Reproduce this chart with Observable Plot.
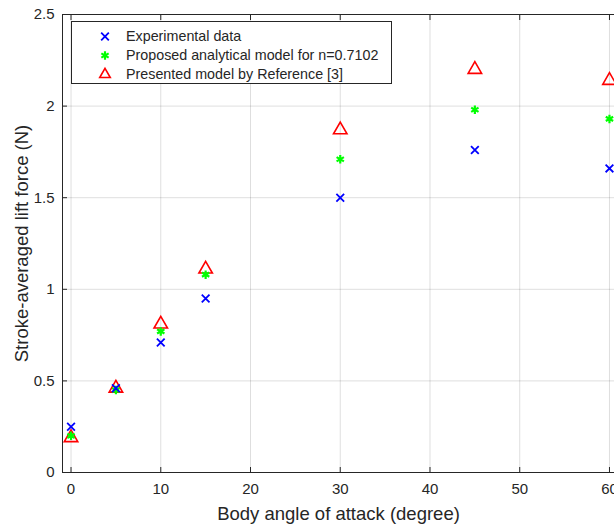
<!DOCTYPE html>
<html>
<head>
<meta charset="utf-8">
<script src="https://cdn.jsdelivr.net/npm/d3@7"></script>
<script src="https://cdn.jsdelivr.net/npm/@observablehq/plot@0.6"></script>
<style>
  html, body { margin: 0; padding: 0; background: #fff; }
  #wrap { position: relative; width: 614px; height: 524px; overflow: hidden; font-family: "Liberation Sans", Arial, sans-serif; }
  #legend { position: absolute; left: 71px; top: 21px; width: 321px; height: 63px; border: 1px solid #262626; background: #fff; box-sizing: border-box; }
  .item { position: absolute; left: 0; height: 19px; width: 100%; }
  .item svg { position: absolute; left: 23px; top: 0; }
  .item span { position: absolute; left: 54px; top: 1px; font-size: 14.3px; color: #262626; white-space: nowrap; }
</style>
</head>
<body>
<div id="wrap"></div>
<script>
const angles = [0, 5, 10, 15, 30, 45, 60];
const experimental = [0.25, 0.46, 0.71, 0.95, 1.50, 1.76, 1.66];
const proposed = [0.20, 0.45, 0.77, 1.08, 1.71, 1.98, 1.93];
const reference = [0.19, 0.46, 0.81, 1.11, 1.87, 2.20, 2.14];
const seriesNames = ["Experimental data", "Proposed analytical model for n=0.7102", "Presented model by Reference [3]"];
const xTicks = [0, 10, 20, 30, 40, 50, 60];
const yTicks = [0, 0.5, 1, 1.5, 2, 2.5];

const expData = angles.map((a, i) => ({x: a, y: experimental[i]}));
const propData = angles.map((a, i) => ({x: a, y: proposed[i]}));
const refData = angles.map((a, i) => ({x: a, y: reference[i]}));

const ink = "#262626";
const chart = Plot.plot({
  width: 614,
  height: 524,
  marginLeft: 62,
  marginRight: 0,
  marginTop: 14,
  marginBottom: 52,
  style: {fontFamily: "'Liberation Sans', Arial, sans-serif", color: ink, background: "#fff"},
  x: {domain: [-0.95, 60.56]},
  y: {domain: [0, 2.5]},
  marks: [
    Plot.gridX(xTicks, {stroke: "#000", strokeOpacity: 0.13}),
    Plot.gridY(yTicks, {stroke: "#000", strokeOpacity: 0.13}),
    Plot.frame({stroke: ink, strokeWidth: 1}),
    Plot.axisX(xTicks, {anchor: "bottom", tickSize: 5, text: null, dy: -5, stroke: ink, label: null}),
    Plot.axisX(xTicks, {anchor: "top", tickSize: 5, text: null, dy: 5, stroke: ink, label: null}),
    Plot.axisY(yTicks, {anchor: "left", tickSize: 5, text: null, dx: 5, stroke: ink, label: null}),
    Plot.axisX(xTicks, {anchor: "bottom", tickSize: 0, tickPadding: 11, fontSize: 15, tickFormat: d => String(d),
      label: "Body angle of attack (degree)", labelAnchor: "center", labelArrow: "none", labelOffset: 47}),
    Plot.axisY(yTicks, {anchor: "left", tickSize: 0, tickPadding: 8, fontSize: 15, tickFormat: d => String(d),
      label: "Stroke-averaged lift force (N)", labelAnchor: "center", labelArrow: "none", labelOffset: 48}),
    Plot.dot(refData, {x: "x", y: "y", symbol: "triangle", r: 5, stroke: "#ff0000", strokeWidth: 1.6, fill: "none"}),
    Plot.dot(propData, {x: "x", y: "y", symbol: "asterisk", r: 4, stroke: "#00ff00", strokeWidth: 2.2}),
    Plot.dot(expData, {x: "x", y: "y", symbol: "times", r: 3.6, stroke: "#0000ff", strokeWidth: 1.8})
  ]
});
const wrap = document.getElementById("wrap");
wrap.appendChild(chart);

chart.querySelectorAll("[aria-label='x-axis label'] text, [aria-label='y-axis label'] text").forEach(t => t.setAttribute("font-size", "18.5"));

// Legend
const legend = document.createElement("div");
legend.id = "legend";
const sym = [
  {type: d3.symbolTimes, size: 40, stroke: "#0000ff", sw: 1.8},
  {type: d3.symbolAsterisk, size: 50, stroke: "#00ff00", sw: 2.2},
  {type: d3.symbolTriangle2, size: 80, stroke: "#ff0000", sw: 1.6}
];
seriesNames.forEach((name, i) => {
  const it = document.createElement("div");
  it.className = "item";
  it.style.top = (5 + i * 19) + "px";
  const path = d3.symbol(sym[i].type, sym[i].size)();
  it.innerHTML = `<svg width="20" height="19" viewBox="-10 -9.5 20 19"><path d="${path}" fill="none" stroke="${sym[i].stroke}" stroke-width="${sym[i].sw}"/></svg><span>${name}</span>`;
  legend.appendChild(it);
});
wrap.appendChild(legend);
</script>
</body>
</html>
